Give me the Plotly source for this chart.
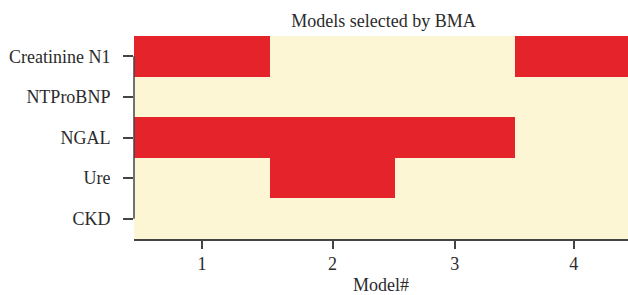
import plotly.graph_objects as go

# ---- data ----
variables = ["Creatinine N1", "NTProBNP", "NGAL", "Ure", "CKD"]
models = ["1", "2", "3", "4"]
# posterior model probabilities (column widths)
pmp = [0.273, 0.250, 0.240, 0.237]
# inclusion matrix: rows = variables, cols = models
inclusion = [
    [1, 0, 0, 1],
    [0, 0, 0, 0],
    [1, 1, 1, 0],
    [0, 1, 0, 0],
    [0, 0, 0, 0],
]
title_text = "Models selected by BMA"
xlabel = "Model#"

RED = "#E4242A"
CREAM = "#FCF6D4"
TXT = "#2b2b2b"
FONT = "Liberation Serif"

edges = [0.0]
for p in pmp:
    edges.append(edges[-1] + p)
mids = [(edges[i] + edges[i + 1]) / 2 for i in range(len(pmp))]
yidx = list(range(len(variables)))

fig = go.Figure()
fig.add_trace(go.Heatmap(
    x=edges, y=yidx, z=inclusion,
    zmin=0, zmax=1,
    colorscale=[[0, CREAM], [0.5, CREAM], [0.5, RED], [1, RED]],
    showscale=False, hoverinfo="skip", xgap=0, ygap=0,
))

# left axis line spanning first to last tick (R style)
fig.add_shape(type="line", xref="paper", yref="y",
              x0=0, x1=0, y0=yidx[0], y1=yidx[-1],
              line=dict(color="#444", width=1.5))

W, H = 628, 295
left, top, bottom = 133.5, 35.5, 55.5
plot_w = W - left
full_w = 499.5  # pixel width of full cumulative range
xmax = edges[-1] * plot_w / full_w

fig.update_layout(
    width=W, height=H,
    margin=dict(l=left, r=0, t=top, b=bottom, autoexpand=False),
    paper_bgcolor="white", plot_bgcolor="white",
    font=dict(family=FONT, size=18, color=TXT),
    title=dict(text=title_text, x=(full_w / 2) / plot_w, xref="paper",
               xanchor="center", y=1 - 21 / H, yanchor="middle",
               font=dict(family=FONT, size=18, color=TXT)),
    showlegend=False,
)
fig.update_xaxes(
    range=[0, xmax], tickvals=mids, ticktext=models,
    ticks="outside", ticklen=8, tickwidth=1.5, tickcolor="#444",
    showline=True, linecolor="#444", linewidth=1.5,
    showgrid=False, zeroline=False,
    title=dict(text=xlabel, standoff=6, font=dict(size=18)),
    tickfont=dict(size=18),
)
fig.update_yaxes(
    range=[len(variables) - 0.5, -0.5],
    tickvals=yidx, ticktext=variables,
    ticks="outside", ticklen=10, tickwidth=1.5, tickcolor="#444",
    ticklabelstandoff=9,
    showline=False, showgrid=False, zeroline=False,
    tickfont=dict(size=18),
)

fig.write_html(
    "out.html",
    config={"displayModeBar": False},
    post_script="document.body.style.margin='0';document.body.style.overflow='hidden';",
)
